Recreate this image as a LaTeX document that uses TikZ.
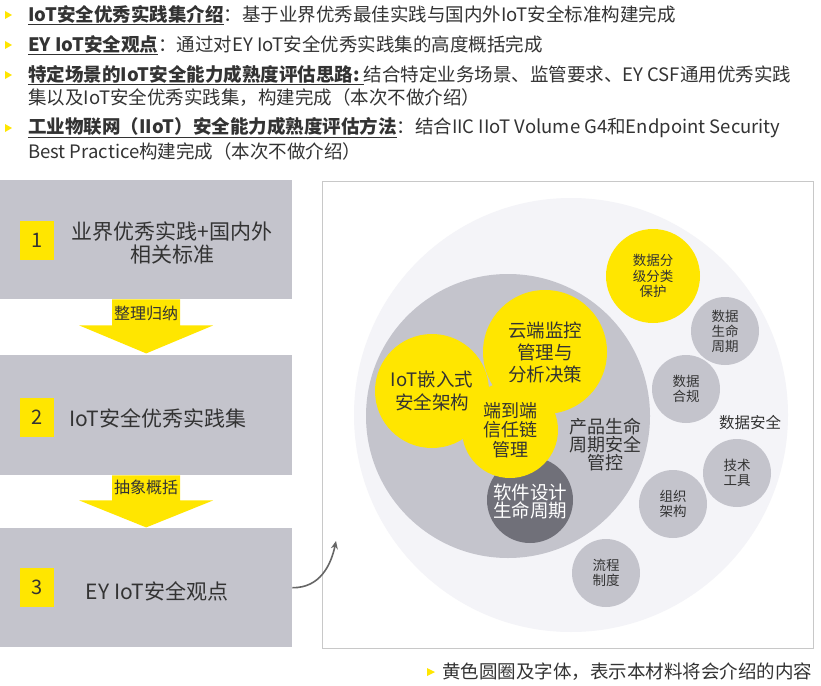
\documentclass[tikz,border=0pt]{standalone}
\usepackage{fontspec}
\setmainfont{Noto Sans CJK SC}
\usetikzlibrary{arrows.meta}
\definecolor{eyyellow}{HTML}{FFE600}
\definecolor{boxgray}{HTML}{C4C4CC}
\definecolor{paleback}{HTML}{F4F4F8}
\definecolor{darkcirc}{HTML}{707079}
\definecolor{txt}{HTML}{333333}
\definecolor{frameg}{HTML}{C8C8C8}
\definecolor{arrowg}{HTML}{666666}
\newcommand{\fs}[2]{\fontsize{#1}{#2}\selectfont}
\begin{document}
\begin{tikzpicture}[x=1pt,y=-1pt,
  topline/.style={anchor=west, inner sep=0pt, text=txt, font=\fs{18.5}{22}},
  bullet/.style={fill=eyyellow},
  stepbox/.style={fill=boxgray, draw=none, minimum width=292pt, inner sep=0pt, anchor=north west},
  numsq/.style={fill=eyyellow, minimum width=34pt, minimum height=39pt, inner sep=0pt, text=txt, font=\fs{20}{20}},
  boxtext/.style={align=center, text=txt, font=\fs{21}{23}, inner sep=0pt},
  arrlabel/.style={text=txt, font=\fs{16}{16}, inner sep=0pt},
  circ/.style={circle, inner sep=0pt, align=center, text=txt},
  bigtxt/.style={font=\fs{18.5}{22}},
  smalltxt/.style={font=\fs{13.5}{15}},
  graycirc/.style={circ, fill=boxgray, minimum size=68pt, smalltxt},
  curvearrow/.style={draw=arrowg, line width=1.6pt, -{Stealth[length=8pt,width=7pt]}}
]
\useasboundingbox[fill=white] (0,0) rectangle (821,685);

% ---------- top bullet lines ----------
\foreach \yy in {15,45,75,128}{
  \fill[eyyellow] (5,\yy-4) -- (12,\yy) -- (5,\yy+4) -- cycle;
}
\node[topline] (l1) at (28,15) {\underline{\textbf{IoT安全优秀实践集介绍}}：基于业界优秀最佳实践与国内外IoT安全标准构建完成};
\node[topline] (l2) at (28,45) {\underline{\textbf{EY IoT安全观点}}：通过对EY IoT安全优秀实践集的高度概括完成};
\node[topline] (l3) at (28,75) {\underline{\textbf{特定场景的IoT安全能力成熟度评估思路:\ }}结合特定业务场景、监管要求、EY CSF通用优秀实践};
\node[topline] (l3b) at (28,98) {集以及IoT安全优秀实践集，构建完成（本次不做介绍）};
\node[topline] (l4) at (28,128) {\underline{\textbf{工业物联网（IIoT）安全能力成熟度评估方法}}：结合IIC IIoT Volume G4和Endpoint Security};
\node[topline] (l4b) at (28,151) {Best Practice构建完成（本次不做介绍）};

% ---------- left steps ----------
\node[stepbox, minimum height=119pt] (b1) at (0,180) {};
\node[stepbox, minimum height=120pt] (b2) at (0,355) {};
\node[stepbox, minimum height=119pt] (b3) at (0,528) {};

\node[numsq] (n1) at (37,240) {1};
\node[numsq] (n2) at (37,417) {2};
\node[numsq] (n3) at (37,587) {3};

\node[boxtext] (t1) at (172,243) {业界优秀实践+国内外\\相关标准};
\node[boxtext] (t2) at (158,418) {IoT安全优秀实践集};
\node[boxtext] (t3) at (157,591) {EY IoT安全观点};

% yellow down arrows
\fill[eyyellow, shift={(b1.south)}] (-34,0) -- (34,0) -- (34,26) -- (67,26) -- (0,54) -- (-67,26) -- (-34,26) -- cycle;
\fill[eyyellow, shift={(b2.south)}] (-34,0) -- (34,0) -- (34,25) -- (67,25) -- (0,52) -- (-67,25) -- (-34,25) -- cycle;
\node[arrlabel] (a1) at (146,313) {整理归纳};
\node[arrlabel] (a2) at (146,487) {抽象概括};

% ---------- right panel ----------
\node[draw=frameg, line width=0.8pt, minimum width=491pt, minimum height=467pt, inner sep=0pt, anchor=north west] (frame) at (322,181) {};

\coordinate (arrowend) at (336,541);
\draw[curvearrow] (b3.east) .. controls (320,588) and (331,565) .. (arrowend);

\node[circ, fill=paleback, minimum size=434pt] (outer) at (571,415) {};
\node[circ, fill=boxgray, minimum size=284pt] (prod) at (508,416) {};
\node[circ, fill=eyyellow, minimum size=114pt, bigtxt, font=\fs{18.5}{23}] (emb) at (432,391) {IoT嵌入式\\安全架构};
\node[circ, fill=eyyellow, minimum size=124pt, bigtxt, font=\fs{18.5}{22}] (cloud) at (545,352) {云端监控\\管理与\\分析决策};
\node[circ, fill=darkcirc, minimum size=86pt, text=white, font=\fs{18.5}{17.5}] (sdl) at (530,500) {\\[1pt]软件设计\\生命周期};
\node[circ, fill=eyyellow, minimum size=96pt, font=\fs{18}{19.5}] (e2e) at (510,430) {端到端\\信任链\\管理};
\node[circ, fill=eyyellow, minimum size=94pt, smalltxt, font=\fs{13.5}{15.5}] (grade) at (653,276) {数据分\\级分类\\保护};

\node[graycirc] (dlc) at (725,331) {数据\\生命\\周期};
\node[graycirc] (comp) at (686,389) {数据\\合规};
\node[graycirc] (tool) at (737,473) {技术\\工具};
\node[graycirc] (org) at (673,504) {组织\\架构};
\node[graycirc] (proc) at (606,573) {流程\\制度};

\node[text=txt, inner sep=0pt, font=\fs{15.5}{16}] (ds) at (750,423) {数据安全};
\node[text=txt, inner sep=0pt, align=center, font=\fs{18}{18}] (plc) at (605,445) {产品生命\\周期安全\\管控};

% ---------- caption ----------
\fill[eyyellow] (427,668) -- (435,672) -- (427,676) -- cycle;
\node[anchor=west, inner sep=0pt, text=txt, font=\fs{18.5}{20}] (cap) at (442,672) {黄色圆圈及字体，表示本材料将会介绍的内容};
\end{tikzpicture}
\end{document}
